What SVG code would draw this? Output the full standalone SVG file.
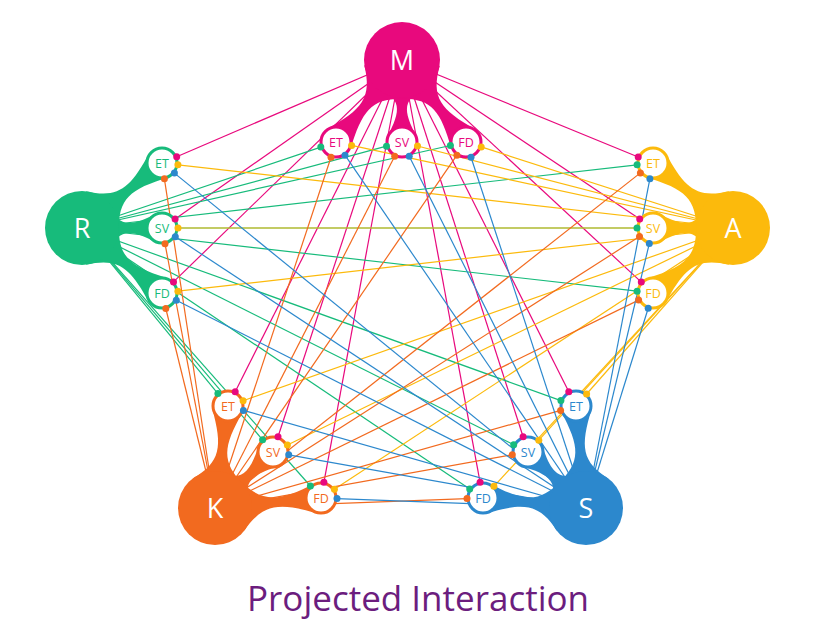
<svg xmlns="http://www.w3.org/2000/svg" width="824" height="633" viewBox="0 0 824 633">
<style>
.ln{fill:none;stroke-width:1.2}
.cm{stroke:#E8097D}.cr{stroke:#17BB7B}.ca{stroke:#FCBA0C}.ck{stroke:#F26A1F}.cs{stroke:#2C88CD}
.fm{fill:#E8097D}.fr{fill:#17BB7B}.fa{fill:#FCBA0C}.fk{fill:#F26A1F}.fs{fill:#2C88CD}
.hub text{font-family:"Open Sans","Noto Sans",sans-serif;font-size:27px;fill:#fff;text-anchor:middle}
.sub circle.ring{fill:#fff;stroke-width:3}
.sub text{font-family:"Open Sans","Noto Sans",sans-serif;font-size:12.5px;text-anchor:middle}
.title{font-family:"Open Sans","Noto Sans",sans-serif;font-size:35px;fill:#6C1D7E;text-anchor:middle}
</style>
<rect width="824" height="633" fill="#fff"/>
<g id="connectors">
<g class="ln cm">
<path d="M402,60L176.7,156.7"/><path d="M402,60L175.1,218.9"/><path d="M402,60L173.5,281.9"/>
<path d="M402,60L638.2,157.0"/><path d="M402,60L639.7,219.1"/><path d="M402,60L641.3,282.1"/>
<path d="M402,60L235.2,391.7"/><path d="M402,60L278.0,436.8"/><path d="M402,60L323.9,482.3"/>
<path d="M402,60L568.8,391.7"/><path d="M402,60L523.1,436.8"/><path d="M402,60L480.1,482.3"/>
</g>
<g class="ln cr">
<path d="M82,228L320.8,147.1"/><path d="M82,228L386.5,146.2"/><path d="M82,228L450.4,145.5"/>
<path d="M82,228L637.1,164.8"/><path d="M82,228L637,228"/><path d="M82,228L637.1,291.2"/>
<path d="M82,228L217.9,393.6"/><path d="M82,228L262.6,439.8"/><path d="M82,228L310.4,486.0"/>
<path d="M82,228L560.9,400.6"/><path d="M82,228L513.7,444.8"/><path d="M82,228L469.7,489.1"/>
</g>
<g class="ln ca">
<path d="M733,228L351.6,145.4"/><path d="M733,228L417.5,146.0"/><path d="M733,228L481.2,146.9"/>
<path d="M733,228L177.9,164.8"/><path d="M733,228L178,228"/><path d="M733,228L177.9,291.2"/>
<path d="M733,228L243.1,400.7"/><path d="M733,228L287.4,445.0"/><path d="M733,228L334.4,489.2"/>
<path d="M733,228L586.6,394.0"/><path d="M733,228L538.8,440.2"/><path d="M733,228L493.9,486.3"/>
</g>
<g class="ln ck">
<path d="M215,508L331.0,157.2"/><path d="M215,508L394.7,156.3"/><path d="M215,508L456.9,155.2"/>
<path d="M215,508L164.4,178.8"/><path d="M215,508L165.0,243.7"/><path d="M215,508L165.8,308.5"/>
<path d="M215,508L640.4,172.9"/><path d="M215,508L639.5,236.6"/><path d="M215,508L638.6,300.1"/>
<path d="M215,508L560.6,410.4"/><path d="M215,508L512.3,454.8"/><path d="M215,508L467.0,498.6"/>
</g>
<g class="ln cs">
<path d="M586,508L345.0,155.2"/><path d="M586,508L409.2,156.3"/><path d="M586,508L471.0,157.2"/>
<path d="M586,508L174.4,173.1"/><path d="M586,508L175.3,236.8"/><path d="M586,508L176.3,300.2"/>
<path d="M586,508L649.9,178.7"/><path d="M586,508L649.3,243.6"/><path d="M586,508L648.2,308.3"/>
<path d="M586,508L243.4,410.4"/><path d="M586,508L288.7,454.8"/><path d="M586,508L337.0,498.6"/>
</g>
</g>

<g id="hub-M" class="hub fm">
<path d="M364.2,64.9C372.3,97.4 362.4,109.6 326.6,129.0L350.6,148.6C362.4,109.6 372.3,97.4 405.9,98.8Z"/>
<path d="M375.1,87.9C402,97.5 402,109.6 386.6,137.9L417.5,137.9C402,109.6 402,97.5 428.9,87.9Z"/>
<path d="M397.6,98.8C430.8,97.4 440.4,109.6 451.3,148.4L475.5,129.2C440.4,109.6 430.8,97.4 439.8,65.4Z"/>
<circle cx="402" cy="60" r="38"/>
<text x="402" y="70">M</text>
</g>
<g id="hub-R" class="hub fr">
<path d="M118.8,231.8C118.0,198.7 130.0,189.0 168.5,177.6L149.1,153.6C130.0,189.0 118.0,198.7 85.8,191.2Z"/>
<path d="M108.2,254.2C118,228 130,228 157.9,243.5L157.9,212.5C130,228 118,228 108.2,201.8Z"/>
<path d="M85.8,264.8C118.0,257.3 130.0,267.0 149.1,302.4L168.5,278.4C130.0,267.0 118.0,257.3 118.8,224.2Z"/>
<circle cx="82" cy="228" r="37"/>
<text x="82" y="237.5">R</text>
</g>
<g id="hub-A" class="hub fa">
<path d="M696.2,231.8C697.0,198.7 685.0,189.0 646.5,177.6L665.9,153.6C685.0,189.0 697.0,198.7 729.2,191.2Z"/>
<path d="M706.8,254.2C697,228 685,228 657.1,243.5L657.1,212.5C685,228 697,228 706.8,201.8Z"/>
<path d="M729.2,264.8C697.0,257.3 685.0,267.0 665.9,302.4L646.5,278.4C685.0,267.0 697.0,257.3 696.2,224.2Z"/>
<circle cx="733" cy="228" r="37"/>
<text x="733" y="237.5">A</text>
</g>
<g id="hub-K" class="hub fk">
<path d="M244.3,485.4C220.9,462.1 222.8,446.8 242.8,412.1L212.1,408.2C222.8,446.8 220.9,462.1 192.4,478.7Z"/>
<path d="M252.0,508.6C241.1,482.8 249.8,474.4 280.8,466.0L259.3,443.8C249.8,474.4 241.1,482.8 215.6,471.0Z"/>
<path d="M243.5,531.6C262.7,503.5 278.6,502.0 318.3,513.8L315.4,483.0C278.6,502.0 262.7,503.5 238.6,479.5Z"/>
<circle cx="215" cy="508" r="37"/>
<text x="215" y="517.5">K</text>
</g>
<g id="hub-S" class="hub fs">
<path d="M609.5,479.4C581.5,462.1 580.0,446.8 591.8,408.6L561.0,411.6C580.0,446.8 581.5,462.1 557.4,484.5Z"/>
<path d="M585.4,471.0C559.9,482.8 551.2,474.4 541.7,443.8L520.3,466.0C551.2,474.4 559.9,482.8 549.0,508.6Z"/>
<path d="M562.5,479.4C539.6,503.5 524.2,502.0 488.6,483.0L485.6,513.8C524.2,502.0 539.6,503.5 557.4,531.5Z"/>
<circle cx="586" cy="508" r="37"/>
<text x="586" y="517.5">S</text>
</g>

<g id="M-ET" class="sub"><circle class="ring cm" cx="336" cy="142" r="15"/><text class="fm" x="336" y="146.5">ET</text>
<circle class="fr" cx="320.8" cy="147.1" r="3.5"/><circle class="fa" cx="351.6" cy="145.4" r="3.5"/><circle class="fk" cx="331.0" cy="157.2" r="3.5"/><circle class="fs" cx="345.0" cy="155.2" r="3.5"/></g>
<g id="M-SV" class="sub"><circle class="ring cm" cx="402" cy="142" r="15"/><text class="fm" x="402" y="146.5">SV</text>
<circle class="fr" cx="386.5" cy="146.2" r="3.5"/><circle class="fa" cx="417.5" cy="146.0" r="3.5"/><circle class="fk" cx="394.7" cy="156.3" r="3.5"/><circle class="fs" cx="409.2" cy="156.3" r="3.5"/></g>
<g id="M-FD" class="sub"><circle class="ring cm" cx="466" cy="142" r="15"/><text class="fm" x="466" y="146.5">FD</text>
<circle class="fr" cx="450.4" cy="145.5" r="3.5"/><circle class="fa" cx="481.2" cy="146.9" r="3.5"/><circle class="fk" cx="456.9" cy="155.2" r="3.5"/><circle class="fs" cx="471.0" cy="157.2" r="3.5"/></g>

<g id="R-ET" class="sub"><circle class="ring cr" cx="162" cy="163" r="15"/><text class="fr" x="162" y="167.5">ET</text>
<circle class="fm" cx="176.7" cy="156.7" r="3.5"/><circle class="fa" cx="177.9" cy="164.8" r="3.5"/><circle class="fk" cx="164.4" cy="178.8" r="3.5"/><circle class="fs" cx="174.4" cy="173.1" r="3.5"/></g>
<g id="R-SV" class="sub"><circle class="ring cr" cx="162" cy="228" r="15"/><text class="fr" x="162" y="232.5">SV</text>
<circle class="fm" cx="175.1" cy="218.9" r="3.5"/><circle class="fa" cx="178" cy="228" r="3.5"/><circle class="fk" cx="165.0" cy="243.7" r="3.5"/><circle class="fs" cx="175.3" cy="236.8" r="3.5"/></g>
<g id="R-FD" class="sub"><circle class="ring cr" cx="162" cy="293" r="15"/><text class="fr" x="162" y="297.5">FD</text>
<circle class="fm" cx="173.5" cy="281.9" r="3.5"/><circle class="fa" cx="177.9" cy="291.2" r="3.5"/><circle class="fk" cx="165.8" cy="308.5" r="3.5"/><circle class="fs" cx="176.3" cy="300.2" r="3.5"/></g>

<g id="A-ET" class="sub"><circle class="ring ca" cx="653" cy="163" r="15"/><text class="fa" x="653" y="167.5">ET</text>
<circle class="fm" cx="638.2" cy="157.0" r="3.5"/><circle class="fr" cx="637.1" cy="164.8" r="3.5"/><circle class="fk" cx="640.4" cy="172.9" r="3.5"/><circle class="fs" cx="649.9" cy="178.7" r="3.5"/></g>
<g id="A-SV" class="sub"><circle class="ring ca" cx="653" cy="228" r="15"/><text class="fa" x="653" y="232.5">SV</text>
<circle class="fm" cx="639.7" cy="219.1" r="3.5"/><circle class="fr" cx="637" cy="228" r="3.5"/><circle class="fk" cx="639.5" cy="236.6" r="3.5"/><circle class="fs" cx="649.3" cy="243.6" r="3.5"/></g>
<g id="A-FD" class="sub"><circle class="ring ca" cx="653" cy="293" r="15"/><text class="fa" x="653" y="297.5">FD</text>
<circle class="fm" cx="641.3" cy="282.1" r="3.5"/><circle class="fr" cx="637.1" cy="291.2" r="3.5"/><circle class="fk" cx="638.6" cy="300.1" r="3.5"/><circle class="fs" cx="648.2" cy="308.3" r="3.5"/></g>

<g id="K-ET" class="sub"><circle class="ring ck" cx="228" cy="406" r="15"/><text class="fk" x="228" y="410.5">ET</text>
<circle class="fm" cx="235.2" cy="391.7" r="3.5"/><circle class="fr" cx="217.9" cy="393.6" r="3.5"/><circle class="fa" cx="243.1" cy="400.7" r="3.5"/><circle class="fs" cx="243.4" cy="410.4" r="3.5"/></g>
<g id="K-SV" class="sub"><circle class="ring ck" cx="273" cy="452" r="15"/><text class="fk" x="273" y="456.5">SV</text>
<circle class="fm" cx="278.0" cy="436.8" r="3.5"/><circle class="fr" cx="262.6" cy="439.8" r="3.5"/><circle class="fa" cx="287.4" cy="445.0" r="3.5"/><circle class="fs" cx="288.7" cy="454.8" r="3.5"/></g>
<g id="K-FD" class="sub"><circle class="ring ck" cx="321" cy="498" r="15"/><text class="fk" x="321" y="502.5">FD</text>
<circle class="fm" cx="323.9" cy="482.3" r="3.5"/><circle class="fr" cx="310.4" cy="486.0" r="3.5"/><circle class="fa" cx="334.4" cy="489.2" r="3.5"/><circle class="fs" cx="337.0" cy="498.6" r="3.5"/></g>

<g id="S-ET" class="sub"><circle class="ring cs" cx="576" cy="406" r="15"/><text class="fs" x="576" y="410.5">ET</text>
<circle class="fm" cx="568.8" cy="391.7" r="3.5"/><circle class="fr" cx="560.9" cy="400.6" r="3.5"/><circle class="fa" cx="586.6" cy="394.0" r="3.5"/><circle class="fk" cx="560.6" cy="410.4" r="3.5"/></g>
<g id="S-SV" class="sub"><circle class="ring cs" cx="528" cy="452" r="15"/><text class="fs" x="528" y="456.5">SV</text>
<circle class="fm" cx="523.1" cy="436.8" r="3.5"/><circle class="fr" cx="513.7" cy="444.8" r="3.5"/><circle class="fa" cx="538.8" cy="440.2" r="3.5"/><circle class="fk" cx="512.3" cy="454.8" r="3.5"/></g>
<g id="S-FD" class="sub"><circle class="ring cs" cx="483" cy="498" r="15"/><text class="fs" x="483" y="502.5">FD</text>
<circle class="fm" cx="480.1" cy="482.3" r="3.5"/><circle class="fr" cx="469.7" cy="489.1" r="3.5"/><circle class="fa" cx="493.9" cy="486.3" r="3.5"/><circle class="fk" cx="467.0" cy="498.6" r="3.5"/></g>

<text class="title" x="418" y="611">Projected Interaction</text>
</svg>
